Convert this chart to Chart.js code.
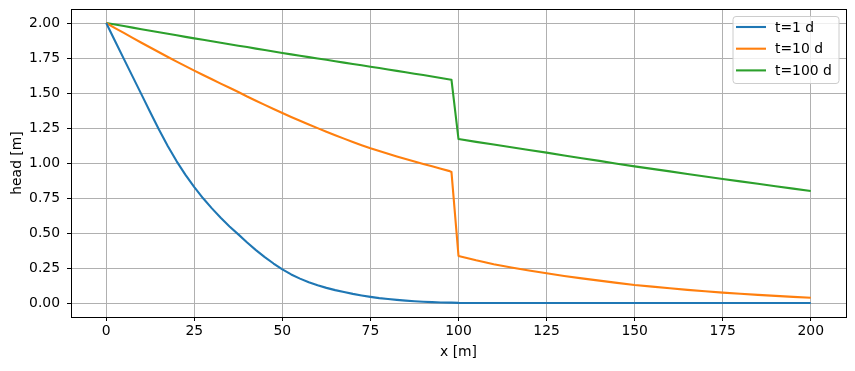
<!DOCTYPE html>
<html>
<head>
<meta charset="utf-8">
<script src="https://cdn.jsdelivr.net/npm/chart.js@4/dist/chart.umd.min.js"></script>
<style>
  html, body { margin: 0; padding: 0; background: #fff; }
  #wrap { width: 855px; height: 371px; }
</style>
</head>
<body>
<div id="wrap"><canvas id="chart" width="855" height="371"></canvas></div>
<script>
// x positions of the samples [m]
const xs = [0, 2.5, 5, 7.5, 10, 12.5, 15, 17.5, 20, 22.5, 25, 27.5, 30, 32.5, 35, 37.5, 40, 42.5, 45, 47.5,
            50, 52.5, 55, 57.5, 60, 62.5, 65, 67.5, 70, 72.5, 75, 77.5, 80, 82.5, 85, 87.5, 90, 92.5, 95, 97.5, 98,
            100, 105, 110, 115, 120, 125, 130, 135, 140, 145, 150, 155, 160, 165, 170, 175, 180, 185, 190, 195, 200];

const head1 = [2.000, 1.872, 1.744, 1.617, 1.490, 1.363, 1.238, 1.120, 1.012, 0.915, 0.827, 0.748, 0.676, 0.609, 0.547, 0.490, 0.432, 0.378, 0.328, 0.282,
               0.240, 0.204, 0.174, 0.148, 0.126, 0.108, 0.092, 0.078, 0.065, 0.054, 0.044, 0.035, 0.028, 0.022, 0.017, 0.013, 0.009, 0.006, 0.004, 0.003, 0.003,
               0.001, 0, 0, 0, 0, 0, 0, 0, 0, 0, 0, 0, 0, 0, 0, 0, 0, 0, 0, 0, 0];
const head10 = [2.000, 1.964, 1.929, 1.894, 1.859, 1.825, 1.791, 1.757, 1.724, 1.692, 1.660, 1.629, 1.598, 1.567, 1.537, 1.507, 1.475, 1.445, 1.415, 1.386,
                1.357, 1.329, 1.302, 1.275, 1.249, 1.223, 1.198, 1.174, 1.150, 1.127, 1.105, 1.085, 1.066, 1.047, 1.029, 1.011, 0.993, 0.976, 0.959, 0.942, 0.936,
                0.336, 0.305, 0.277, 0.254, 0.232, 0.212, 0.193, 0.176, 0.160, 0.144, 0.129, 0.117, 0.105, 0.094, 0.084, 0.074, 0.066, 0.058, 0.051, 0.044, 0.038];
const head100 = [2.000, 1.989, 1.978, 1.967, 1.956, 1.945, 1.934, 1.923, 1.912, 1.901, 1.890, 1.880, 1.869, 1.859, 1.848, 1.838, 1.828, 1.817, 1.807, 1.796,
                 1.786, 1.776, 1.766, 1.756, 1.746, 1.737, 1.727, 1.717, 1.707, 1.698, 1.688, 1.678, 1.668, 1.658, 1.648, 1.638, 1.628, 1.618, 1.607, 1.597, 1.595,
                 1.171, 1.151, 1.132, 1.113, 1.093, 1.074, 1.054, 1.034, 1.015, 0.995, 0.976, 0.958, 0.940, 0.922, 0.904, 0.886, 0.869, 0.852, 0.834, 0.817, 0.800];

const labels = ['t=1 d', 't=10 d', 't=100 d'];
const colors = ['#1f77b4', '#ff7f0e', '#2ca02c'];
const xTicks = [0, 25, 50, 75, 100, 125, 150, 175, 200];
const yTicks = [0, 0.25, 0.5, 0.75, 1.0, 1.25, 1.5, 1.75, 2.0];

const font = { family: 'DejaVu Sans', size: 13.9 };

function pts(ys) {
  return xs.map((x, i) => ({ x: x, y: ys[i] }));
}

// frame around the plot area + matplotlib style legend
const framePlugin = {
  id: 'frame',
  afterDraw(chart) {
    const a = chart.chartArea;
    const ctx = chart.ctx;
    ctx.save();
    ctx.strokeStyle = '#000';
    ctx.lineWidth = 1;
    ctx.strokeRect(Math.round(a.left) + 0.5, Math.round(a.top) + 0.5,
                   Math.round(a.right - a.left), Math.round(a.bottom - a.top));

    // legend
    const bx = a.right - 113, by = a.top + 7.5, bw = 106, bh = 67;
    ctx.beginPath();
    ctx.roundRect(bx, by, bw, bh, 3);
    ctx.fillStyle = 'rgba(255,255,255,0.8)';
    ctx.fill();
    ctx.strokeStyle = '#cccccc';
    ctx.lineWidth = 1;
    ctx.stroke();
    ctx.font = '13.9px "DejaVu Sans"';
    ctx.textBaseline = 'middle';
    chart.data.datasets.forEach((ds, i) => {
      const y = by + 10.5 + i * 21.7;
      ctx.strokeStyle = ds.borderColor;
      ctx.lineWidth = 2.1;
      ctx.beginPath();
      ctx.moveTo(bx + 3, y);
      ctx.lineTo(bx + 33, y);
      ctx.stroke();
      ctx.fillStyle = '#000';
      ctx.fillText(ds.label, bx + 42, y + 1);
    });
    ctx.restore();
  }
};

new Chart(document.getElementById('chart'), {
  type: 'line',
  data: {
    datasets: [
      { label: labels[0], data: pts(head1), borderColor: colors[0], backgroundColor: colors[0] },
      { label: labels[1], data: pts(head10), borderColor: colors[1], backgroundColor: colors[1] },
      { label: labels[2], data: pts(head100), borderColor: colors[2], backgroundColor: colors[2] }
    ]
  },
  options: {
    responsive: false,
    animation: false,
    events: [],
    layout: { padding: { left: 9, right: 9, top: 9, bottom: 10 } },
    elements: {
      point: { radius: 0 },
      line: { borderWidth: 2.1, tension: 0, borderJoinStyle: 'round' }
    },
    plugins: {
      legend: { display: false },
      tooltip: { enabled: false }
    },
    scales: {
      x: {
        type: 'linear',
        min: -10,
        max: 210,
        afterBuildTicks(scale) { scale.ticks = xTicks.map(v => ({ value: v })); },
        afterFit(scale) { scale.height = 44; scale.paddingLeft = 0; scale.paddingRight = 0; },
        grid: { color: '#b0b0b0', lineWidth: 1, tickColor: '#000', tickLength: 4, drawTicks: true },
        border: { display: false },
        ticks: { color: '#000', font: font, padding: 2, maxRotation: 0, callback: v => String(v) },
        title: { display: true, text: 'x [m]', color: '#000', font: font, padding: { top: 2, bottom: 0 } }
      },
      y: {
        min: -0.1,
        max: 2.1,
        afterBuildTicks(scale) { scale.ticks = yTicks.map(v => ({ value: v })); },
        afterFit(scale) { scale.width = 62; scale.paddingTop = 0; scale.paddingBottom = 0; },
        grid: { color: '#b0b0b0', lineWidth: 1, tickColor: '#000', tickLength: 4, drawTicks: true },
        border: { display: false },
        ticks: { color: '#000', font: font, padding: 7, callback: v => v.toFixed(2) },
        title: { display: true, text: 'head [m]', color: '#000', font: font, padding: { top: 0, bottom: 2 } }
      }
    }
  },
  plugins: [framePlugin]
});
</script>
</body>
</html>
